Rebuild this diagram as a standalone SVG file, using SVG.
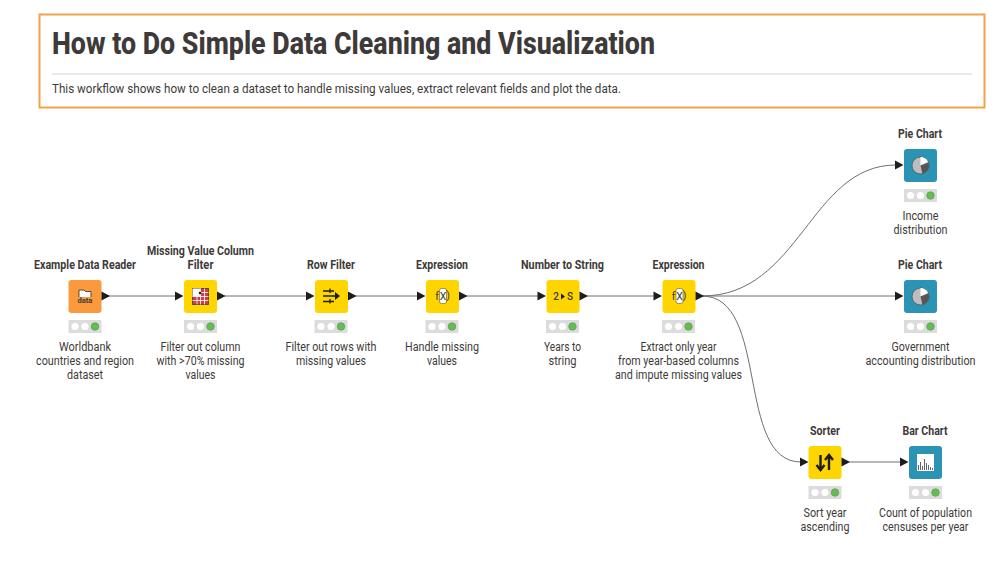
<svg xmlns="http://www.w3.org/2000/svg" width="1006" height="563" viewBox="0 0 1006 563">
<style>
text{font-family:"Roboto","Liberation Sans",sans-serif;fill:#3e3a39}
.t{font-size:12px;font-weight:700;text-anchor:middle}
.d{font-size:12px;text-anchor:middle}
.c{fill:none;stroke:#6f6f6f;stroke-width:1}
.a{fill:#1d1d1b}
.y{fill:#ffd500}.o{fill:#fb9a3c}.b{fill:#2b93b3}
.s{fill:#dcdcdc}.w{fill:#fff}.g{fill:#68bb54;stroke:#4f9a42;stroke-width:.6}
.i{fill:#3e3a39;font-size:9px;font-weight:700;text-anchor:middle}
.f{font-size:10.500px;font-weight:400}
</style>
<defs>
<g id="st"><rect x="-16.5" y="0" width="33" height="13" class="s"/><circle cx="-10" cy="6.5" r="3.6" class="w"/><circle cx="0" cy="6.5" r="3.6" class="w"/><circle cx="10" cy="6.5" r="3.8" class="g"/></g>
<path id="tri" d="M0-4.5L8.5 0L0 4.5Z" class="a"/>
<g id="fx"><text class="i f" x="-6.500" y="3.500">f</text><rect x="-4" y="-7.500" width="7" height="15" rx="2" fill="#fff" stroke="#3e3a39" stroke-width=".5"/><text class="i f" x="-.5" y="3.500">X</text><text class="i f" x="4.500" y="3">)</text></g>
<g id="pie"><circle r="8.500" fill="#bdbdbd" stroke="#4a4a4a" stroke-width=".7"/><path d="M0 0V-8.500A8.500 8.500 0 0 1 7.500 -4Z" fill="#fff"/><path d="M0 0L8 -3A8.500 8.500 0 0 1 2 8.300Z" fill="#555"/></g>
</defs>
<rect x="39.500" y="14.500" width="945" height="93" fill="#fff" stroke="#f4a24a" stroke-width="2"/>
<text x="52" y="54" font-size="32" font-weight="800" textLength="603" lengthAdjust="spacingAndGlyphs">How to Do Simple Data Cleaning and Visualization</text>
<line x1="52" y1="74" x2="972" y2="74" stroke="#d6d6d6" stroke-width="1.200"/>
<text x="52" y="93" font-size="12" textLength="569" lengthAdjust="spacingAndGlyphs">This workflow shows how to clean a dataset to handle missing values, extract relevant fields and plot the data.</text>
<g id="connectors">
<path class="c" d="M108 296H176"/>
<path class="c" d="M224 296H307"/>
<path class="c" d="M355 296H418"/>
<path class="c" d="M466 296H538"/>
<path class="c" d="M586 296H654"/>
<path class="c" d="M702 296C800 296 810 165 896 165"/>
<path class="c" d="M702 296H896"/>
<path class="c" d="M702 296C770 296 735 462 801 462"/>
<path class="c" d="M849 462H901"/>
</g>
<g id="n1"><text class="t" x="85" y="269" textLength="102" lengthAdjust="spacingAndGlyphs">Example Data Reader</text><rect x="68.500" y="280" width="33" height="33" rx="3" class="o"/><path d="M79 297V290H84L85.500 291.500H91V297" fill="#fff" stroke="#3e3a39" stroke-width=".9"/><text class="i" x="85" y="303" style="font-size:7.500px">data</text><use href="#tri" x="101.500" y="296"/><use href="#st" x="85" y="320"/><text class="d" x="85" y="351" textLength="52" lengthAdjust="spacingAndGlyphs">Worldbank</text><text class="d" x="85" y="365" textLength="98" lengthAdjust="spacingAndGlyphs">countries and region</text><text class="d" x="85" y="379" textLength="36" lengthAdjust="spacingAndGlyphs">dataset</text></g>
<g id="n2"><text class="t" x="200.500" y="255" textLength="107" lengthAdjust="spacingAndGlyphs">Missing Value Column</text><text class="t" x="200.500" y="269" textLength="26" lengthAdjust="spacingAndGlyphs">Filter</text><use href="#tri" x="175" y="296"/><rect x="184" y="280" width="33" height="33" rx="3" class="y"/><rect x="192.500" y="288.500" width="16" height="16" fill="#c8404a" stroke="#3e3a39" stroke-width=".8"/><path d="M192.500 288.500H200.500V296.500H192.500Z" fill="#fff"/><path d="M192.500 296.500H208.500M192.500 300.500H208.500M197 296.500V304.500M200.500 288.500V304.500M204.500 288.500V304.500M200.500 292.500H208.500" stroke="#fff" stroke-width=".8" fill="none"/><circle cx="200" cy="293" r="1.300" class="a"/><use href="#tri" x="217" y="296"/><use href="#st" x="200.500" y="320"/><text class="d" x="200.500" y="351" textLength="80" lengthAdjust="spacingAndGlyphs">Filter out column</text><text class="d" x="200.500" y="365" textLength="88" lengthAdjust="spacingAndGlyphs">with &gt;70% missing</text><text class="d" x="200.500" y="379" textLength="30" lengthAdjust="spacingAndGlyphs">values</text></g>
<g id="n3"><text class="t" x="331" y="269" textLength="48" lengthAdjust="spacingAndGlyphs">Row Filter</text><use href="#tri" x="306" y="296"/><rect x="315" y="280" width="33" height="33" rx="3" class="y"/><path d="M323 291H334M323 301.500H334M323 296H337M330 288.500V293M330 299V303.500" stroke="#1d1d1b" stroke-width="1.300" fill="none"/><path d="M335 292L340 296L335 300Z" class="a"/><use href="#tri" x="348" y="296"/><use href="#st" x="331" y="320"/><text class="d" x="331" y="351" textLength="91" lengthAdjust="spacingAndGlyphs">Filter out rows with</text><text class="d" x="331" y="365" textLength="70" lengthAdjust="spacingAndGlyphs">missing values</text></g>
<g id="n4"><text class="t" x="442" y="269" textLength="52" lengthAdjust="spacingAndGlyphs">Expression</text><use href="#tri" x="417" y="296"/><rect x="426" y="280" width="33" height="33" rx="3" class="y"/><use href="#fx" x="443.500" y="296"/><use href="#tri" x="459" y="296"/><use href="#st" x="442" y="320"/><text class="d" x="442" y="351" textLength="74" lengthAdjust="spacingAndGlyphs">Handle missing</text><text class="d" x="442" y="365" textLength="30" lengthAdjust="spacingAndGlyphs">values</text></g>
<g id="n5"><text class="t" x="562.500" y="269" textLength="83" lengthAdjust="spacingAndGlyphs">Number to String</text><use href="#tri" x="537.500" y="296"/><rect x="546.500" y="280" width="33" height="33" rx="3" class="y"/><text class="i" x="556" y="300" style="font-size:10px;font-weight:500">2</text><path d="M561 293.500L565 296.500L561 299.500Z" class="a"/><text class="i" x="570" y="300" style="font-size:10px;font-weight:500">S</text><use href="#tri" x="579.500" y="296"/><use href="#st" x="562.500" y="320"/><text class="d" x="562.500" y="351" textLength="37" lengthAdjust="spacingAndGlyphs">Years to</text><text class="d" x="562.500" y="365" textLength="28" lengthAdjust="spacingAndGlyphs">string</text></g>
<g id="n6"><text class="t" x="678.500" y="269" textLength="52" lengthAdjust="spacingAndGlyphs">Expression</text><use href="#tri" x="653.500" y="296"/><rect x="662.500" y="280" width="33" height="33" rx="3" class="y"/><use href="#fx" x="680" y="296"/><use href="#tri" x="695.500" y="296"/><use href="#st" x="678.500" y="320"/><text class="d" x="678.500" y="351" textLength="76" lengthAdjust="spacingAndGlyphs">Extract only year</text><text class="d" x="678.500" y="365" textLength="121" lengthAdjust="spacingAndGlyphs">from year-based columns</text><text class="d" x="678.500" y="379" textLength="127" lengthAdjust="spacingAndGlyphs">and impute missing values</text></g>
<g id="n7"><text class="t" x="920" y="138" textLength="44" lengthAdjust="spacingAndGlyphs">Pie Chart</text><use href="#tri" x="895" y="165"/><rect x="904" y="149" width="33" height="33" rx="3" class="b"/><use href="#pie" x="920.500" y="165.500"/><use href="#st" x="920.500" y="189"/><text class="d" x="920.500" y="220" textLength="36" lengthAdjust="spacingAndGlyphs">Income</text><text class="d" x="920.500" y="234" textLength="54" lengthAdjust="spacingAndGlyphs">distribution</text></g>
<g id="n8"><text class="t" x="920" y="269" textLength="44" lengthAdjust="spacingAndGlyphs">Pie Chart</text><use href="#tri" x="895" y="296"/><rect x="904" y="280" width="33" height="33" rx="3" class="b"/><use href="#pie" x="920.500" y="296.500"/><use href="#st" x="920.500" y="320"/><text class="d" x="920.500" y="351" textLength="58" lengthAdjust="spacingAndGlyphs">Government</text><text class="d" x="920.500" y="365" textLength="110" lengthAdjust="spacingAndGlyphs">accounting distribution</text></g>
<g id="n9"><text class="t" x="825" y="435" textLength="30" lengthAdjust="spacingAndGlyphs">Sorter</text><use href="#tri" x="800" y="462"/><rect x="808.500" y="446" width="33" height="33" rx="3" class="y"/><path d="M820.500 455V469M816.500 465L820.500 470L824.500 465M829 470V456M825 460L829 455L833 460" stroke="#1d1d1b" stroke-width="2.400" fill="none"/><use href="#tri" x="841.500" y="462"/><use href="#st" x="825" y="486"/><text class="d" x="825" y="517" textLength="43" lengthAdjust="spacingAndGlyphs">Sort year</text><text class="d" x="825" y="531" textLength="49" lengthAdjust="spacingAndGlyphs">ascending</text></g>
<g id="n10"><text class="t" x="925" y="435" textLength="45" lengthAdjust="spacingAndGlyphs">Bar Chart</text><use href="#tri" x="900" y="462"/><rect x="909" y="446" width="33" height="33" rx="3" class="b"/><rect x="917" y="454" width="17" height="17" fill="#fff"/><path d="M918.500 470V465M920.500 470V462M922.500 470V466M924.500 470V459M926.500 470V463M928.500 470V465M930.500 470V467M932.500 470V468" stroke="#666" stroke-width="1"/><use href="#st" x="925.500" y="486"/><text class="d" x="925.500" y="517" textLength="93" lengthAdjust="spacingAndGlyphs">Count of population</text><text class="d" x="925.500" y="531" textLength="86" lengthAdjust="spacingAndGlyphs">censuses per year</text></g>
</svg>
